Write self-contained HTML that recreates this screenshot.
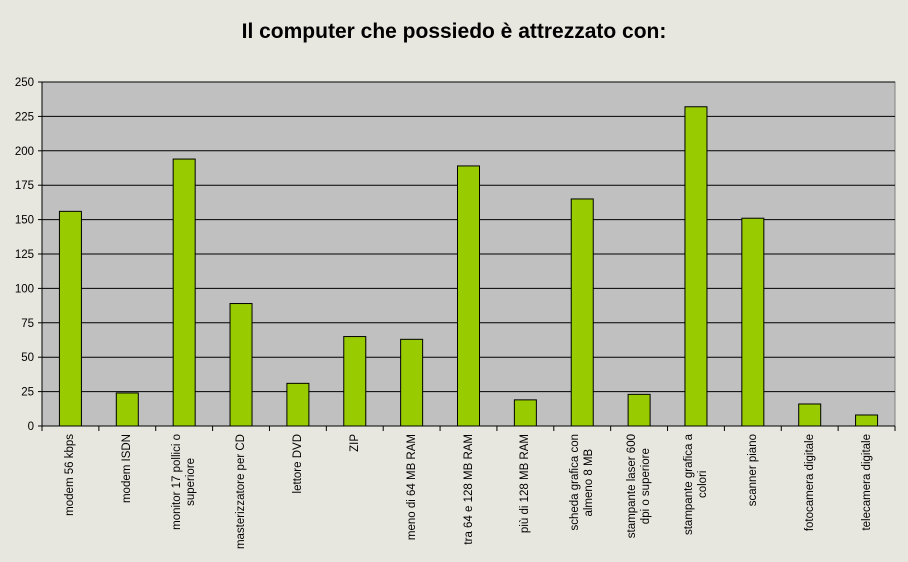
<!DOCTYPE html>
<html><head><meta charset="utf-8"><style>
body{margin:0;background:#e8e7df;}
#wrap{position:relative;width:908px;height:562px;overflow:hidden;font-family:"Liberation Sans",Arial,sans-serif;background:#e8e7df;}
.title{position:absolute;left:0;width:908px;top:20px;text-align:center;font-weight:bold;font-size:21px;color:#000;}
.lbl{position:absolute;top:434px;writing-mode:vertical-rl;transform:translateX(-50%) rotate(180deg);text-align:center;font-size:11.5px;line-height:14px;color:#000;white-space:nowrap;}
</style></head><body>
<div id="wrap">
<div class="title">Il computer che possiedo è attrezzato con:</div>
<svg id="svg" width="908" height="562" style="position:absolute;left:0;top:0"></svg>
</div>
<script>
const categories=["modem 56 kbps","modem ISDN","monitor 17 pollici o|superiore","masterizzatore per CD","lettore DVD","ZIP","meno di 64 MB RAM","tra 64 e 128 MB RAM","più di 128 MB RAM","scheda grafica con|almeno 8 MB","stampante laser 600|dpi o superiore","stampante grafica a|colori","scanner piano","fotocamera digitale","telecamera digitale"];
const values=[156,24,194,89,31,65,63,189,19,165,23,232,151,16,8];
const yTicks=[0,25,50,75,100,125,150,175,200,225,250];
const L=42,R=895,T=82,B=426,yMax=250;
const ns="http://www.w3.org/2000/svg";
const svg=document.getElementById('svg');
const wrap=document.getElementById('wrap');
const y=v=>B-(v/yMax)*(B-T);
const bw=(R-L)/categories.length;
const x=i=>L+i*bw;
function mk(t,a){const e=document.createElementNS(ns,t);for(const k in a)e.setAttribute(k,a[k]);svg.appendChild(e);return e;}
const bg=mk('rect',{x:L,y:T,width:R-L,height:B-T,fill:'#c0c0c0',stroke:'#808080'});


yTicks.forEach(v=>{
  const g=mk('line',{x1:L,x2:R,y1:y(v),y2:y(v),stroke:'#000','stroke-width':1});
  
  
  const tk=mk('line',{x1:L-4,x2:L,y1:y(v),y2:y(v),stroke:'#000'});
  
  
  const t=mk('text',{x:L-8,y:y(v)+4,'text-anchor':'end','font-size':'11.5','font-family':'Liberation Sans, Arial, sans-serif'});
  t.textContent=v;
  
  
});
const ax=mk('line',{x1:L,x2:L,y1:T,y2:B+1,stroke:'#000'});


values.forEach((v,i)=>{
  const w=22,cx=x(i)+bw/2;
  const r=mk('rect',{x:cx-w/2,y:y(v),width:w,height:B-y(v),fill:'#99cc00',stroke:'#000','stroke-width':1});
  
  
});
for(let i=0;i<=categories.length;i++){
  const tk=mk('line',{x1:x(i),x2:x(i),y1:B,y2:B+5,stroke:'#000'});
  
  
}
categories.forEach((c,i)=>{
  const d=document.createElement('div');
  d.className='lbl';
  d.style.left=(x(i)+bw/2)+'px';
  d.innerHTML=c.split('|').join('<br>');
  
  
  wrap.appendChild(d);
});
const xa=mk('line',{x1:L,x2:R,y1:B,y2:B,stroke:'#000'});


</script>
</body></html>
